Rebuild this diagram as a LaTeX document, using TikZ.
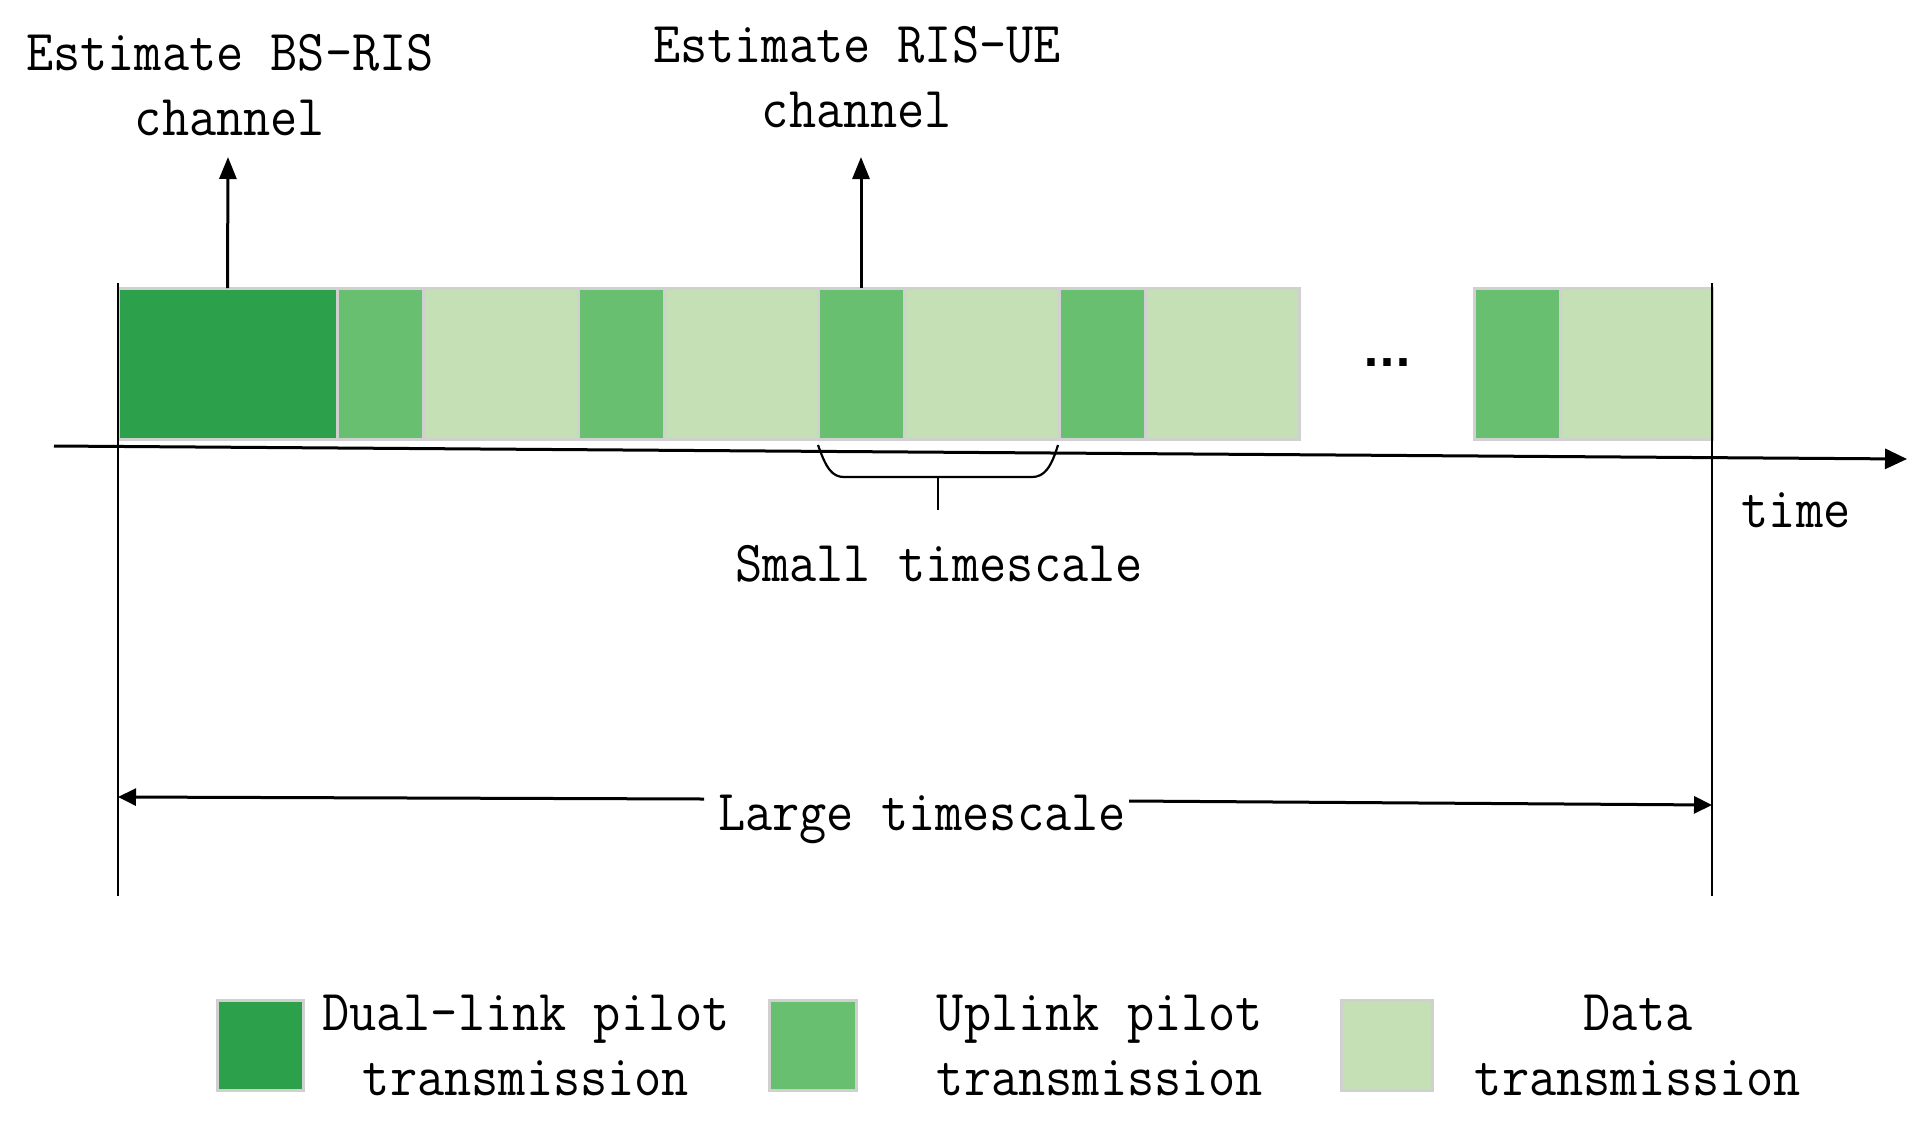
\documentclass[tikz,border=0pt]{standalone}
\usepackage{fontspec}
\setmainfont{Latin Modern Mono}[FakeStretch=0.91]
\newfontfamily\dotfont{DejaVu Sans}
\usetikzlibrary{arrows.meta}
\definecolor{gdark}{RGB}{44,160,74}
\definecolor{gmid}{RGB}{104,191,112}
\definecolor{glight}{RGB}{197,224,180}
\definecolor{gedge}{RGB}{208,208,208}
\begin{document}
\begin{tikzpicture}[x=1pt,y=-1pt,
  blk/.style={draw=gedge, line width=3pt, inner sep=0pt, outer sep=0pt, minimum height=151pt},
  dk/.style={blk, fill=gdark},
  md/.style={blk, fill=gmid, minimum width=86pt},
  lt/.style={blk, fill=glight},
  lbl/.style={font=\fontsize{58}{65}\selectfont, inner sep=0pt, align=center, anchor=base},
  upar/.style={line width=3pt, -{Triangle[length=22pt,width=17pt]}},
  thin/.style={line width=2.2pt},
  leg/.style={draw=gedge, line width=3pt, inner sep=0pt, minimum width=86pt, minimum height=90pt}
]
\useasboundingbox (0,0) rectangle (1929,1130);
% bar blocks
\node[dk, minimum width=219pt] (b0) at (227.5,363.5) {};
\node[md] (u1) at (380,363.5) {};
\node[lt, minimum width=155pt] (d1) at (500.5,363.5) {};
\node[md] (u2) at (621,363.5) {};
\node[lt, minimum width=154pt] (d2) at (741,363.5) {};
\node[md] (u3) at (861,363.5) {};
\node[lt, minimum width=155pt] (d3) at (981.5,363.5) {};
\node[md] (u4) at (1102,363.5) {};
\node[lt, minimum width=154pt] (d4) at (1222,363.5) {};
\node[md] (u5) at (1517,363.5) {};
\node[lt, minimum width=152pt] (d5) at (1636,363.5) {};
% dots
\node[font=\fontsize{42}{42}\selectfont\dotfont\bfseries, inner sep=0pt, anchor=base] (dots) at (1387,366) {...};
% frame lines
\coordinate (l0) at (118,283); \coordinate (l1) at (118,896);
\coordinate (r0) at (1712,283); \coordinate (r1) at (1712,896);
\draw[thin] (l0) -- (l1);
\draw[thin] (r0) -- (r1);
% time axis
\coordinate (ax0) at (54,446); \coordinate (ax1) at (1907,459);
\draw[line width=3pt, -{Triangle[length=22pt,width=20pt]}] (ax0) -- (ax1);
\node[lbl] (time) at (1796,527) {time};
% estimate labels
\node[lbl] (t1) at (230,135) {Estimate BS-RIS\\channel};
\node[lbl] (t2) at (857,127) {Estimate RIS-UE\\channel};
\coordinate (a1) at (228,157);
\coordinate (a2) at (861,157);
\draw[upar] (b0.north) -- (a1);
\draw[upar] (u3.north) -- (a2);
% small timescale brace
\coordinate (bs) at (818,445); \coordinate (be) at (1058,445);
\coordinate (bm) at (938,477); \coordinate (bt) at (938,510);
\draw[thin] (bs) .. controls (826,468) and (832,477) .. (844,477) -- (1032,477) .. controls (1044,477) and (1051,468) .. (be);
\draw[thin] (bm) -- (bt);
\node[lbl] (small) at (939,581) {Small timescale};
% large timescale
\node[lbl] (large) at (922,830) {Large timescale};
\coordinate (g0) at (118,797); \coordinate (g1) at (704,799);
\coordinate (g2) at (1129,801); \coordinate (g3) at (1712,805);
\draw[line width=3pt, -{Triangle[length=18pt,width=17pt]}] (g1) -- (g0);
\draw[line width=3pt, -{Triangle[length=18pt,width=17pt]}] (g2) -- (g3);
% legend
\node[leg, fill=gdark] (k1) at (260,1045) {};
\node[leg, fill=gmid, minimum width=87pt] (k2) at (812.5,1045) {};
\node[leg, fill=glight, minimum width=91pt] (k3) at (1386.5,1045) {};
\node[lbl] (k1t) at (526,1095) {Dual-link pilot\\transmission};
\node[lbl] (k2t) at (1100,1095) {Uplink pilot\\transmission};
\node[lbl] (k3t) at (1638,1095) {Data\\transmission};
\end{tikzpicture}
\end{document}
